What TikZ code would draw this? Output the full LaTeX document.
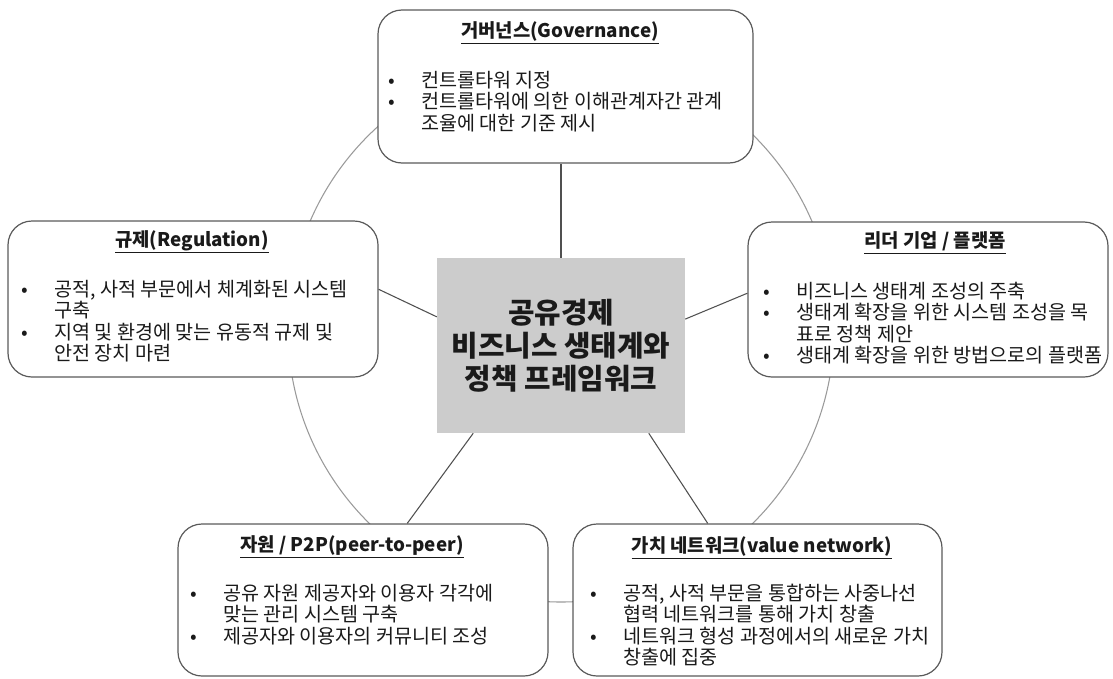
\documentclass[tikz,border=0pt]{standalone}
\usepackage{fontspec}
\setmainfont{Noto Sans CJK KR}
\definecolor{boxline}{HTML}{5A5A5A}
\definecolor{ringline}{HTML}{9A9A9A}
\definecolor{conline}{HTML}{505050}
\definecolor{ctrfill}{HTML}{CCCCCC}
\definecolor{txt}{HTML}{1A1A1A}
\newcommand{\bitem}{\makebox[24.75pt][l]{•}}
\newcommand{\bind}{\hspace*{24.75pt}}
\begin{document}
\begin{tikzpicture}[x=0.75pt,y=-0.75pt,
  infobox/.style={draw=boxline, line width=0.9pt, fill=white, rounded corners=18pt, inner sep=0pt},
  ttl/.style={font=\bfseries\fontsize{14.1}{16}\selectfont, text=txt, inner sep=0pt, anchor=center},
  body/.style={font=\fontsize{14.7}{16}\selectfont, text=txt, align=left, inner sep=0pt, anchor=north west},
  conn/.style={draw=conline, line width=0.8pt}]
\useasboundingbox (0,0) rectangle (1113,678);
% ring
\node[circle, draw=ringline, line width=0.8pt, minimum size=409.5pt, inner sep=0pt] (ring) at (561,329) {};
% boxes
\node[infobox, minimum width=281.25pt, minimum height=114.75pt] (top) at (565.5,86.5) {};
\node[infobox, minimum width=277.5pt, minimum height=117pt] (left) at (193,299) {};
\node[infobox, minimum width=270pt, minimum height=116.25pt] (right) at (928,299.5) {};
\node[infobox, minimum width=277.5pt, minimum height=114pt] (bl) at (363,600) {};
\node[infobox, minimum width=276.75pt, minimum height=114pt] (br) at (757.5,600) {};
\node[fill=ctrfill, minimum width=186pt, minimum height=131.25pt, inner sep=0pt] (ctr) at (561,345.5) {};
% connectors
\draw[conn] (ctr.north) -- (ctr.north |- top.south);
\draw[conn] (ctr.167) -- (left.3);
\draw[conn] (ctr.12.5) -- (right.178.6);
\draw[conn] (ctr.225.8) -- (bl.60);
\draw[conn] (ctr.315.5) -- (br.123.6);
% center text
\node[font=\bfseries\fontsize{21.6}{24.75}\selectfont, text=txt, align=center, inner sep=0pt] (ctrtxt) at (561,346)
  {공유경제\\비즈니스 생태계와\\정책 프레임워크};
% titles
\node[ttl] (toptitle) at (560,33) {\underline{거버넌스(Governance)}};
\node[ttl] (lefttitle) at (192,242) {\underline{규제(Regulation)}};
\node[ttl] (righttitle) at (935,243) {\underline{리더 기업 / 플랫폼}};
\node[ttl] (bltitle) at (352,547) {\underline{자원 / P2P(peer-to-peer)}};
\node[ttl] (brtitle) at (762,548) {\underline{가치 네트워크(value network)}};
% bodies
\node[body] (topbody) at (388,71) {\bitem 컨트롤타워 지정\\
  \bitem 컨트롤타워에 의한 이해관계자간 관계\\
  \bind 조율에 대한 기준 제시};
\node[body] (leftbody) at (21,280) {\bitem 공적, 사적 부문에서 체계화된 시스템\\
  \bind 구축\\
  \bitem 지역 및 환경에 맞는 유동적 규제 및\\
  \bind 안전 장치 마련};
\node[body] (rightbody) at (763,282) {\bitem 비즈니스 생태계 조성의 주축\\
  \bitem 생태계 확장을 위한 시스템 조성을 목\\
  \bind 표로 정책 제안\\
  \bitem 생태계 확장을 위한 방법으로의 플랫폼};
\node[body] (blbody) at (190,584) {\bitem 공유 자원 제공자와 이용자 각각에\\
  \bind 맞는 관리 시스템 구축\\
  \bitem 제공자와 이용자의 커뮤니티 조성};
\node[body] (brbody) at (590,584) {\bitem 공적, 사적 부문을 통합하는 사중나선\\
  \bind 협력 네트워크를 통해 가치 창출\\
  \bitem 네트워크 형성 과정에서의 새로운 가치\\
  \bind 창출에 집중};
\end{tikzpicture}
\end{document}
